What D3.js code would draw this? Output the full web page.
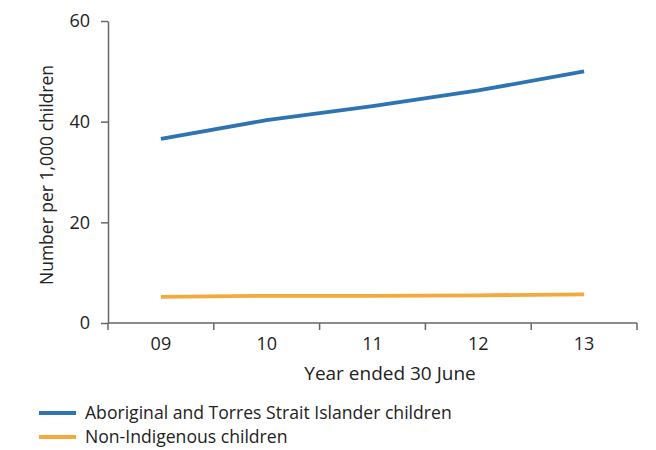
<!DOCTYPE html>
<html><head><meta charset="utf-8">
<script src="https://cdn.jsdelivr.net/npm/d3@7"></script>
<style>body{margin:0;background:#fff}svg text{font-family:"Open Sans",sans-serif;fill:#222}</style>
</head><body><svg id="c" width="656" height="450"></svg>
<script>
const years = ["09","10","11","12","13"];
const indigenous = [36.6, 40.3, 43.1, 46.2, 50.0];
const nonIndigenous = [5.2, 5.4, 5.4, 5.5, 5.7];
const yTicks = [0, 20, 40, 60];
const seriesNames = ["Aboriginal and Torres Strait Islander children", "Non-Indigenous children"];
const colors = ["#2e74b5", "#f5a83c"];

(function () {
const svg = d3.select("#c");
const mLeft = 108, mRight = 637, mTop = 21, mBottom = 323;
const x = d3.scaleBand().domain(years).range([mLeft, mRight]);
const y = d3.scaleLinear().domain([0, 60]).range([mBottom, mTop]);

const gx = svg.append("g").attr("transform", `translate(0,${mBottom})`)
  .call(d3.axisBottom(x).tickSize(7).tickPadding(7).tickSizeOuter(7));
const gy = svg.append("g").attr("transform", `translate(${mLeft},0)`)
  .call(d3.axisLeft(y).tickValues(yTicks).tickSize(7).tickPadding(11).tickSizeOuter(0));
[gx, gy].forEach(g => {
  g.selectAll("path,line").attr("stroke", "#666").attr("stroke-width", 1.5);
  g.selectAll("text").attr("font-size", 18).attr("fill", "#222").style("font-family", "'Open Sans',sans-serif");
});
gx.selectAll(".tick line").remove();
const bounds = years.map(d => x(d)).concat([mRight]);
gx.selectAll("line.b").data(bounds).enter().append("line")
  .attr("x1", d => d).attr("x2", d => d).attr("y1", 0).attr("y2", 7)
  .attr("stroke", "#666").attr("stroke-width", 1.5);
gx.select("path.domain").attr("d", `M${mLeft},0H${mRight}`);

const line = d3.line().x((d, i) => x(years[i]) + x.bandwidth() / 2).y(d => y(d));
[indigenous, nonIndigenous].forEach((s, i) => {
  svg.append("path").datum(s).attr("d", line).attr("fill", "none")
    .attr("stroke", colors[i]).attr("stroke-width", 3.8);
});

svg.append("text").attr("x", 390).attr("y", 380).attr("text-anchor", "middle")
  .attr("font-size", 19).text("Year ended 30 June");
svg.append("text").attr("transform", "translate(53,175) rotate(-90)").attr("text-anchor", "middle")
  .attr("font-size", 17.5).text("Number per 1,000 children");

const lg = svg.append("g");
seriesNames.forEach((n, i) => {
  const yy = 413 + i * 24;
  lg.append("line").attr("x1", 39).attr("x2", 76).attr("y1", yy).attr("y2", yy)
    .attr("stroke", colors[i]).attr("stroke-width", 3.8);
  lg.append("text").attr("x", 85).attr("y", yy + 6).attr("font-size", 17.6).text(n);
});
})();
</script></body></html>
